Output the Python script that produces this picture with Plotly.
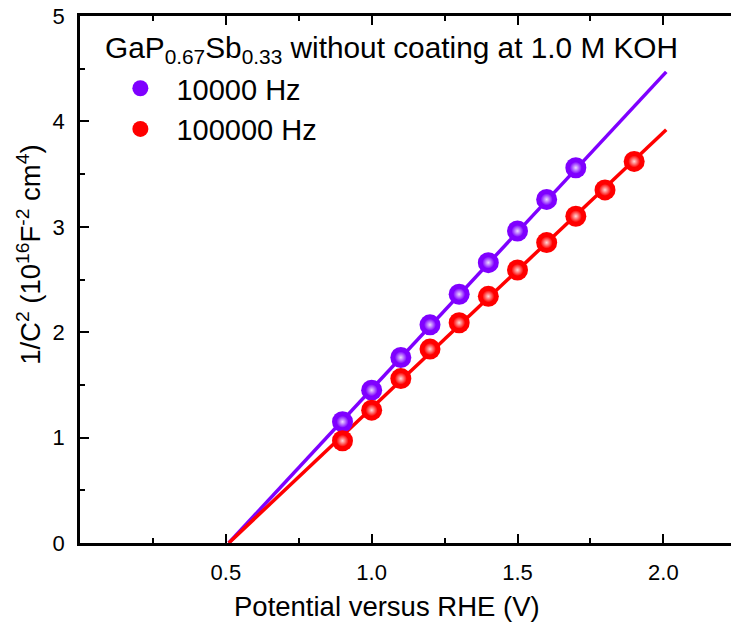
import plotly.graph_objects as go

# ---- data ----
potential_10k = [0.9, 1.0, 1.1, 1.2, 1.3, 1.4, 1.5, 1.6, 1.7]
inv_c2_10k = [1.15, 1.45, 1.76, 2.07, 2.36, 2.66, 2.96, 3.26, 3.56]
potential_100k = [0.9, 1.0, 1.1, 1.2, 1.3, 1.4, 1.5, 1.6, 1.7, 1.8, 1.9]
inv_c2_100k = [0.97, 1.26, 1.56, 1.84, 2.09, 2.34, 2.59, 2.85, 3.10, 3.35, 3.62]
fit_x = [0.51, 2.01]
fit_10k = [0.0, 4.47]
fit_100k = [0.0, 3.92]
x_tickvals = [0.5, 1.0, 1.5, 2.0]
x_ticktext = ["0.5", "1.0", "1.5", "2.0"]
y_tickvals = [0, 1, 2, 3, 4, 5]
series_names = ["10000 Hz", "100000 Hz"]

PURPLE = "#7F00FF"
RED = "#FF0000"
FONT = "Liberation Sans, Arial, sans-serif"

fig = go.Figure()

# fit lines
fig.add_trace(go.Scatter(x=fit_x, y=fit_10k, mode="lines",
                         line=dict(color=PURPLE, width=3.5), showlegend=False, hoverinfo="skip"))
fig.add_trace(go.Scatter(x=fit_x, y=fit_100k, mode="lines",
                         line=dict(color=RED, width=3.5), showlegend=False, hoverinfo="skip"))

# sphere-like markers
for xs, ys, col, name in [(potential_10k, inv_c2_10k, PURPLE, series_names[0]),
                          (potential_100k, inv_c2_100k, RED, series_names[1])]:
    fig.add_trace(go.Scatter(x=xs, y=ys, mode="markers", name="\u00a0\u00a0" + name,
                             marker=dict(size=21, color=col, line=dict(width=0),
                                         gradient=dict(type="radial", color=col))))
    fig.add_trace(go.Scatter(x=xs, y=ys, mode="markers", showlegend=False, hoverinfo="skip",
                             marker=dict(size=12, color="rgba(255,255,255,0)", line=dict(width=0),
                                         gradient=dict(type="radial", color="rgba(255,255,255,0.85)"))))

axis_common = dict(showgrid=False, zeroline=False, showline=True, linecolor="black",
                   linewidth=2.5, ticks="inside", tickcolor="black", tickwidth=2,
                   ticklen=9, tickfont=dict(family=FONT, size=22, color="black"))

fig.update_xaxes(range=[0, 2.232], tickvals=x_tickvals, ticktext=x_ticktext,
                 mirror="ticks", ticklabelstandoff=8,
                 minor=dict(ticks="inside", ticklen=5, tickwidth=2, tickcolor="black", dtick=0.25, tick0=0),
                 **axis_common)
fig.update_yaxes(range=[0, 5], tickvals=y_tickvals, mirror=False, ticklabelstandoff=8,
                 minor=dict(ticks="inside", ticklen=5, tickwidth=2, tickcolor="black", dtick=0.5, tick0=0),
                 **axis_common)

fig.update_layout(
    width=731, height=626,
    margin=dict(l=80, r=0, t=16, b=83),
    plot_bgcolor="white", paper_bgcolor="white",
    font=dict(family=FONT, color="black"),
    legend=dict(x=0.062, y=0.911, xanchor="left", yanchor="top",
                bgcolor="rgba(0,0,0,0)", borderwidth=0,
                font=dict(family=FONT, size=29, color="black"), tracegroupgap=0),
    annotations=[
        dict(text="GaP<sub>0.67</sub>Sb<sub>0.33</sub> without coating at 1.0 M KOH",
             xref="paper", yref="paper", x=0.036, y=0.975, xanchor="left", yanchor="top",
             showarrow=False, font=dict(family=FONT, size=29.8, color="black")),
        dict(text="Potential versus RHE (V)", xref="paper", yref="paper",
             x=0.471, y=-0.121, xanchor="center", yanchor="middle",
             showarrow=False, font=dict(family=FONT, size=27.5, color="black")),
        dict(text="1/C<sup>2</sup> (10<sup>16</sup>F<sup>-2</sup> cm<sup>4</sup>)",
             xref="paper", yref="paper", x=-0.077, y=0.5465, xanchor="center", yanchor="middle",
             textangle=-90, showarrow=False, font=dict(family=FONT, size=27.5, color="black")),
    ],
)

fig.write_html("out.html")
